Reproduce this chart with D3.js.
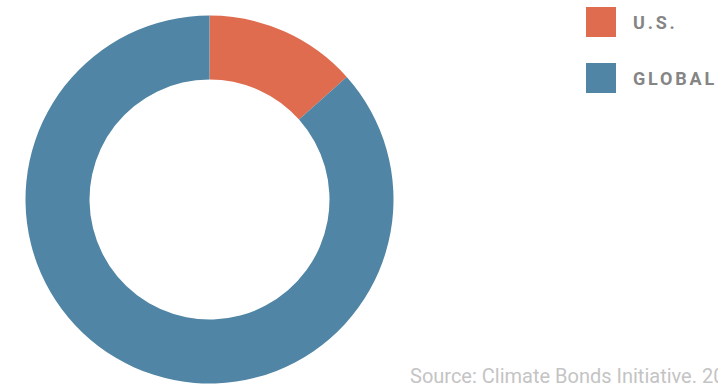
<!DOCTYPE html>
<meta charset="utf-8">
<script src="https://d3js.org/d3.v7.min.js"></script>
<style>
  body { margin: 0; background: #fff; overflow: hidden; }
</style>
<div id="chart"></div>
<script>
  // data
  var categories = ["U.S.", "GLOBAL"]
  var shares = [13.4, 86.6]
  var colors = ["#e06c4f", "#5085a5"]
  var source = "Source: Climate Bonds Initiative. 2017"

  var width = 718, height = 387
  var cx = 209.5, cy = 199.5, outer = 184, inner = 120

  var svg = d3.select("#chart")
    .append("svg")
      .attr("width", width)
      .attr("height", height)

  var color = d3.scaleOrdinal().domain(categories).range(colors)

  var pie = d3.pie().sort(null).value(function(d, i) { return shares[i] })
  var arc = d3.arc().innerRadius(inner).outerRadius(outer)

  svg.append("g")
      .attr("transform", "translate(" + cx + "," + cy + ")")
    .selectAll("path")
    .data(pie(categories))
    .enter()
    .append("path")
      .attr("d", arc)
      .attr("fill", function(d) { return color(d.data) })

  // legend
  var legend = svg.selectAll(".legend")
    .data(categories)
    .enter()
    .append("g")
      .attr("transform", function(d, i) { return "translate(586," + (7 + i * 56) + ")" })

  legend.append("rect")
    .attr("width", 30)
    .attr("height", 30)
    .attr("fill", function(d) { return color(d) })

  legend.append("text")
    .attr("x", 47)
    .attr("y", 21.5)
    .text(function(d) { return d })
    .style("font-family", "Roboto, sans-serif")
    .style("font-weight", "bold")
    .style("font-size", "18px")
    .style("letter-spacing", "2.8px")
    .style("fill", "#858585")

  // source note, runs off the right edge like the original
  svg.append("text")
    .attr("x", 410)
    .attr("y", 383)
    .text(source)
    .style("font-family", "Roboto, sans-serif")
    .style("font-size", "20px")
    .style("fill", "#c4c4c4")
</script>
